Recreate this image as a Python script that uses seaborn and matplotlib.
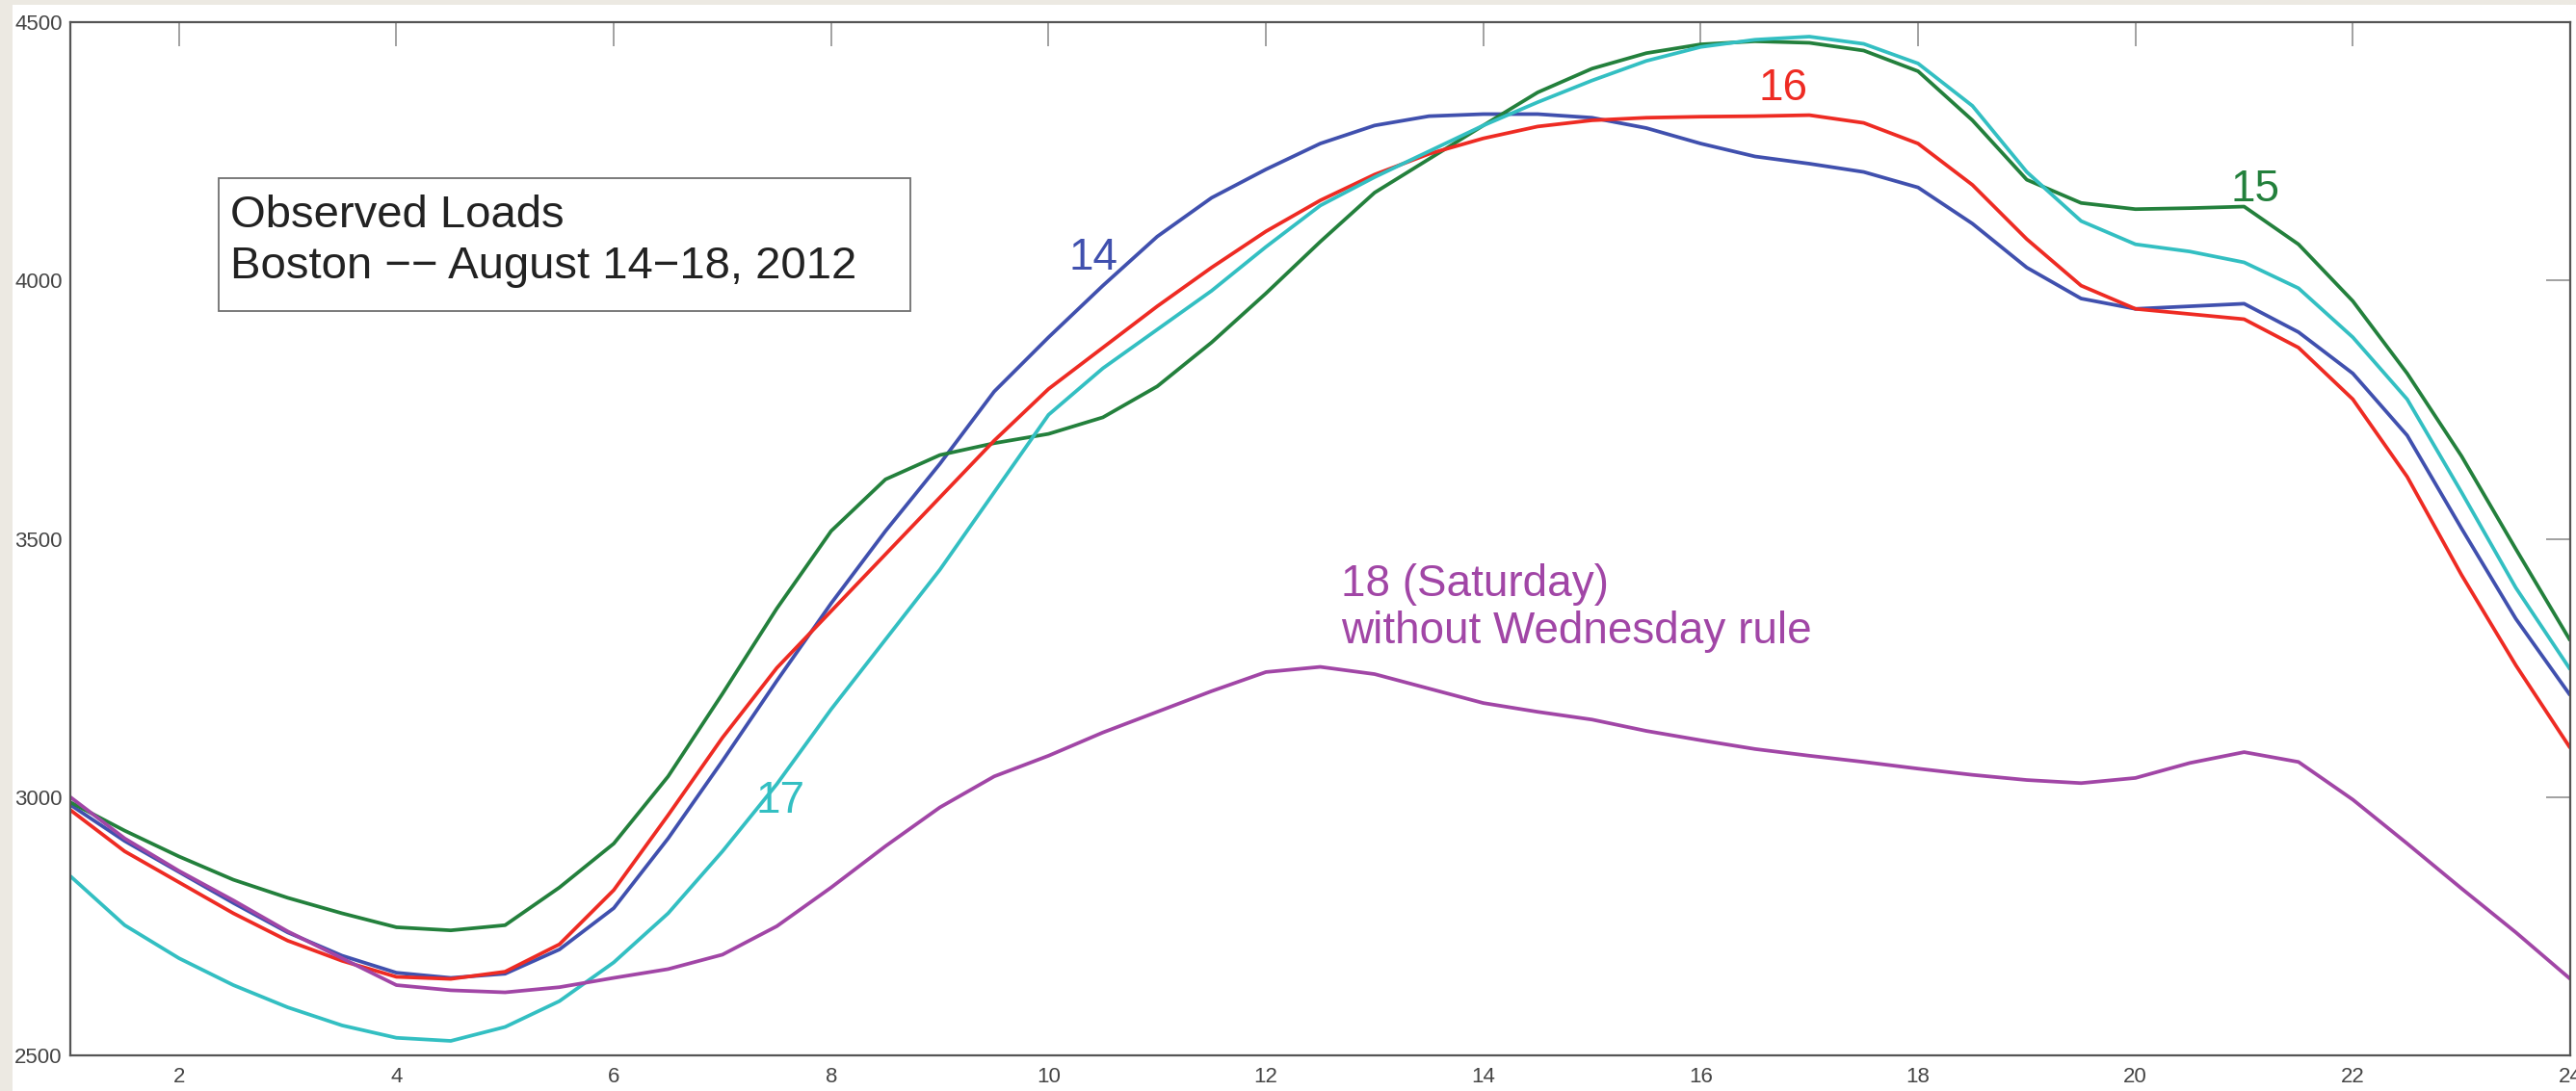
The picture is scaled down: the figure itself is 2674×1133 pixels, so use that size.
import numpy as np
import pandas as pd
import matplotlib
matplotlib.use("Agg")
import matplotlib.pyplot as plt
from matplotlib.patches import Rectangle
import seaborn as sns

# Hour of day, sampled every half hour
hours = np.arange(1.0, 24.01, 0.5)

# Observed loads (MW), Boston, August 14-18, 2012
load_14 = [2985, 2915, 2855, 2795, 2738, 2693, 2660, 2650, 2658, 2705,
           2785, 2920, 3070, 3225, 3375, 3515, 3645, 3785, 3890, 3990,
           4085, 4160, 4215, 4265, 4300, 4318, 4322, 4322, 4315, 4295,
           4265, 4240, 4226, 4210, 4180, 4110, 4025, 3965, 3945, 3950,
           3955, 3900, 3820, 3700, 3520, 3345, 3197]
load_15 = [2990, 2935, 2885, 2840, 2805, 2775, 2748, 2742, 2752, 2825,
           2910, 3040, 3200, 3365, 3515, 3615, 3662, 3685, 3703, 3735,
           3795, 3880, 3975, 4075, 4170, 4235, 4300, 4364, 4410, 4440,
           4457, 4463, 4460, 4445, 4405, 4310, 4195, 4150, 4138, 4140,
           4143, 4070, 3960, 3820, 3660, 3480, 3303]
load_16 = [2975, 2895, 2835, 2775, 2722, 2683, 2652, 2648, 2662, 2715,
           2820, 2965, 3115, 3250, 3360, 3470, 3580, 3690, 3790, 3870,
           3950, 4025, 4095, 4155, 4205, 4245, 4275, 4298, 4310, 4315,
           4317, 4318, 4320, 4305, 4265, 4185, 4080, 3990, 3945, 3935,
           3925, 3870, 3770, 3620, 3430, 3255, 3095]
load_17 = [2847, 2752, 2688, 2636, 2593, 2558, 2534, 2528, 2555, 2605,
           2680, 2775, 2895, 3025, 3170, 3305, 3440, 3590, 3740, 3830,
           3905, 3980, 4065, 4145, 4200, 4250, 4300, 4345, 4387, 4425,
           4452, 4466, 4472, 4458, 4420, 4338, 4210, 4115, 4070, 4056,
           4035, 3985, 3890, 3770, 3590, 3405, 3247]
load_18 = [3000, 2920, 2857, 2800, 2740, 2688, 2636, 2626, 2622, 2632,
           2650, 2667, 2695, 2750, 2825, 2905, 2980, 3040, 3080, 3125,
           3165, 3205, 3242, 3252, 3238, 3210, 3182, 3165, 3150, 3128,
           3110, 3093, 3080, 3068, 3055, 3043, 3033, 3027, 3037, 3066,
           3087, 3068, 2995, 2910, 2823, 2738, 2648]

days = ["14", "15", "16", "17", "18"]
series = [load_14, load_15, load_16, load_17, load_18]
colors = {"14": "#4050AE", "15": "#23803C", "16": "#EE2B23",
          "17": "#33BFC2", "18": "#A146A6"}

x_ticks = [2, 4, 6, 8, 10, 12, 14, 16, 18, 20, 22, 24]
y_ticks = [2500, 3000, 3500, 4000, 4500]

df = pd.concat(
    [pd.DataFrame({"hour": hours, "load": vals, "day": d})
     for d, vals in zip(days, series)],
    ignore_index=True,
)

sns.set_theme(style="white")
plt.rcParams["font.family"] = ["Liberation Sans", "DejaVu Sans"]

W, H = 2674, 1133
fig = plt.figure(figsize=(W / 100, H / 100), dpi=100, facecolor="#ECE9E2")
# white page area
fig.patches.append(Rectangle((13 / W, 0), 1, 1 - 5 / H, transform=fig.transFigure,
                             facecolor="white", edgecolor="none", zorder=-10))

ax = fig.add_axes([73 / W, 1 - 1096 / H, (2668 - 73) / W, (1096 - 23) / H])
ax.set_zorder(1)
ax.set_facecolor("white")

sns.lineplot(data=df, x="hour", y="load", hue="day", palette=colors,
             linewidth=2.7, legend=False, ax=ax, sort=False,
             solid_joinstyle="round", solid_capstyle="butt")

ax.set_xlim(1, 24)
ax.set_ylim(2500, 4500)
ax.set_xticks(x_ticks)
ax.set_yticks(y_ticks)
ax.set_xlabel("")
ax.set_ylabel("")
ax.tick_params(direction="in", length=18, width=1.3, color="#9A9A9A",
               top=True, right=True, labelsize=16, labelcolor="#454545", pad=6)
ax.tick_params(axis="x", pad=9)
for sp in ax.spines.values():
    sp.set_color("#555555")
    sp.set_linewidth(1.6)

# day labels
lab = dict(fontsize=33, ha="center", va="center")
ax.text(10.41, 4044, "14", color=colors["14"], **lab)
ax.text(21.1, 4175, "15", color=colors["15"], **lab)
ax.text(16.76, 4372, "16", color=colors["16"], **lab)
ax.text(7.53, 2993, "17", color=colors["17"], **lab)
ax.text(12.69, 3452, "18 (Saturday)\nwithout Wednesday rule", color=colors["18"],
        fontsize=33, ha="left", va="top", linespacing=1.15)

# title box
ax.add_patch(Rectangle((2.364, 3941), 8.726 - 2.364, 4198 - 3941,
                       facecolor="white", edgecolor="#707070", linewidth=1.3, zorder=3))
ax.text(2.47, 4103, "Observed Loads", fontsize=34, color="#222222",
        ha="left", va="baseline", zorder=4)
ax.text(2.47, 4004, "Boston \u2212\u2212 August 14\u221218, 2012", fontsize=34,
        color="#222222", ha="left", va="baseline", zorder=4)

fig.savefig("out.png", dpi=100, facecolor=fig.get_facecolor())
